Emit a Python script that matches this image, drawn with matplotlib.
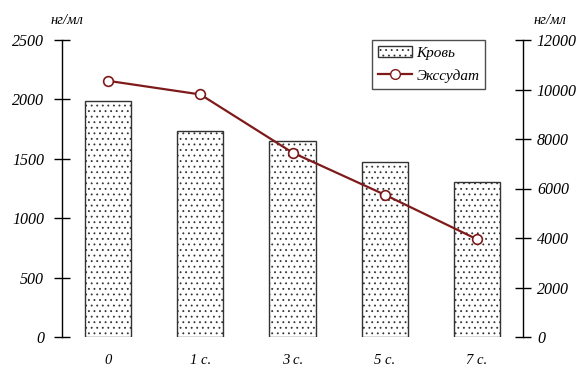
import matplotlib
matplotlib.use("Agg")
import matplotlib.pyplot as plt
from matplotlib.lines import Line2D
from matplotlib.patches import Patch

categories = ["0", "1 с.", "3 с.", "5 с.", "7 с."]
blood = [1990, 1730, 1650, 1470, 1305]
exudate = [10350, 9800, 7450, 5750, 3950]
left_ticks = [0, 500, 1000, 1500, 2000, 2500]
right_ticks = [0, 2000, 4000, 6000, 8000, 10000, 12000]

plt.rcParams['font.family'] = ['Liberation Serif', 'DejaVu Serif']
plt.rcParams['hatch.color'] = '#8a8a8a'
plt.rcParams['hatch.linewidth'] = 0.6

RED = '#7E1A1A'
fig = plt.figure(figsize=(5.77, 3.70), dpi=100)
ax = fig.add_axes([62/577, 33/370, 461/577, 297/370])
x = list(range(len(categories)))
ax.bar(x, blood, width=0.5, facecolor='white', edgecolor='#333333', linewidth=1.0, hatch='...', zorder=2)
ax.set_xlim(-0.5, 4.5)
ax.set_ylim(0, 2500)
ax.set_yticks(left_ticks)
ax.set_yticklabels([str(t) for t in left_ticks], fontsize=11.5, style='italic')
ax.set_xticks(x)
ax.set_xticklabels(categories, fontsize=10.5, style='italic')
ax.tick_params(axis='x', length=0, pad=12)
ax.tick_params(axis='y', direction='inout', length=12, width=1.0, pad=7)
for s in ['top', 'right', 'bottom']:
    ax.spines[s].set_visible(False)
ax.spines['left'].set_linewidth(1.0)

ax2 = ax.twinx()
ax2.plot(x, exudate, color=RED, linewidth=1.6, marker='o', markersize=7,
         markerfacecolor='white', markeredgecolor=RED, markeredgewidth=1.2, zorder=3)
ax2.set_ylim(0, 12000)
ax2.set_yticks(right_ticks)
ax2.set_yticklabels([str(t) for t in right_ticks], fontsize=11.5, style='italic')
ax2.tick_params(axis='y', direction='inout', length=12, width=1.0, pad=4)
for s in ['top', 'left', 'bottom']:
    ax2.spines[s].set_visible(False)
ax2.spines['right'].set_linewidth(1.0)

fig.text(67/577, 1 - 21/370, "нг/мл", fontsize=10.5, style='italic', ha='center', va='center')
fig.text(550/577, 1 - 21/370, "нг/мл", fontsize=10.5, style='italic', ha='center', va='center')

handles = [Patch(facecolor='white', edgecolor='#333333', hatch='...', label='Кровь'),
           Line2D([0], [0], color=RED, linewidth=1.6, marker='o', markersize=7,
                  markerfacecolor='white', markeredgecolor=RED, label='Экссудат')]
leg = ax2.legend(handles=handles, loc='upper left', bbox_to_anchor=(310/461, 1.0),
                 prop={'size': 11, 'style': 'italic'}, frameon=True, fancybox=False,
                 edgecolor='#222222', handlelength=2.2, handletextpad=0.3,
                 borderpad=0.4, labelspacing=0.6, borderaxespad=0)
leg.get_frame().set_linewidth(1.0)

fig.savefig("out.png", dpi=100)
